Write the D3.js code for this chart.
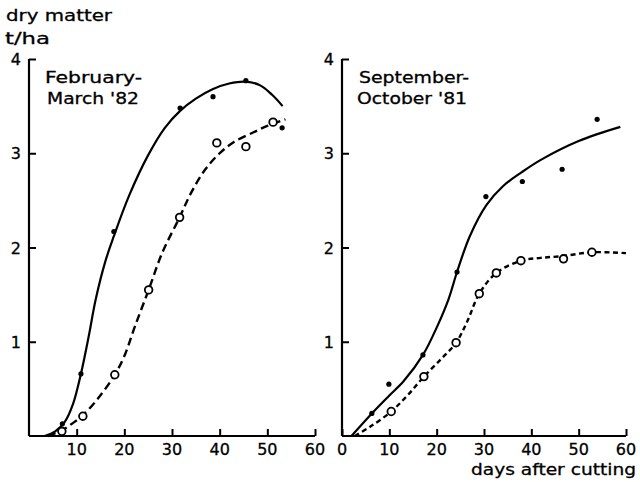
<!DOCTYPE html>
<html>
<head>
<meta charset="utf-8">
<script src="https://cdn.jsdelivr.net/npm/d3@7"></script>
<style>
  html, body { margin: 0; padding: 0; background: #fff; }
  svg text { font-family: "DejaVu Sans", sans-serif; fill: #000; stroke: #000; stroke-width: 0.3; }
</style>
</head>
<body>
<svg id="chart" width="640" height="482"></svg>
<script>
// ---- data (days after cutting, dry matter t/ha) ----
const xTicksLeft = [10, 20, 30, 40, 50, 60];
const xTicksRight = [0, 10, 20, 30, 40, 50, 60];
const yTicks = [1, 2, 3, 4];

// February–March '82
const febFilledDays = [7, 10.9, 17.8, 31.7, 38.6, 45.5, 53.1];
const febFilledDM   = [0.13, 0.66, 2.17, 3.48, 3.60, 3.77, 3.27];
const febOpenDays = [6.9, 11.3, 18.0, 25.1, 31.6, 39.4, 45.5, 51.2];
const febOpenDM   = [0.05, 0.21, 0.65, 1.55, 2.32, 3.11, 3.07, 3.33];
const febSolidCurveDays = [3.3, 5.5, 7.5, 9.3, 10.9, 12.5, 14.0, 16.0, 17.8, 21.0, 25.0, 28.5, 31.7, 35.0, 38.5, 42.0, 45.5, 48.5, 51.0, 53.2];
const febSolidCurveDM   = [0.0, 0.05, 0.15, 0.35, 0.66, 1.05, 1.45, 1.85, 2.12, 2.55, 2.98, 3.27, 3.45, 3.58, 3.68, 3.74, 3.76, 3.72, 3.62, 3.50];
const febDashCurveDays = [4.0, 6.9, 9.0, 11.3, 14.5, 18.0, 20.1, 22.2, 25.1, 28.0, 31.6, 34.0, 37.0, 40.0, 43.0, 47.0, 50.0, 53.8];
const febDashCurveDM   = [0.0, 0.06, 0.13, 0.22, 0.40, 0.65, 0.86, 1.16, 1.55, 1.95, 2.32, 2.58, 2.83, 3.00, 3.12, 3.22, 3.29, 3.36];

// September–October '81
const sepFilledDays = [6.3, 9.9, 17.1, 24.3, 30.4, 38.1, 46.5, 53.9];
const sepFilledDM   = [0.24, 0.55, 0.86, 1.74, 2.54, 2.70, 2.83, 3.36];
const sepOpenDays = [10.4, 17.3, 24.1, 29.0, 32.6, 37.8, 46.8, 52.8];
const sepOpenDM   = [0.26, 0.63, 0.99, 1.51, 1.73, 1.86, 1.88, 1.95];
const sepSolidCurveDays = [2.0, 6.5, 10.0, 13.0, 17.1, 20.0, 22.5, 24.3, 27.0, 30.5, 34.0, 38.0, 42.0, 50.0, 58.8];
const sepSolidCurveDM   = [0.0, 0.25, 0.43, 0.58, 0.86, 1.15, 1.45, 1.74, 2.12, 2.45, 2.65, 2.80, 2.93, 3.13, 3.28];
const sepDashCurveDays = [2.7, 6.0, 10.4, 14.0, 17.3, 21.0, 24.1, 26.5, 29.0, 32.6, 37.8, 42.0, 46.8, 52.8, 60.0];
const sepDashCurveDM   = [0.0, 0.10, 0.26, 0.44, 0.63, 0.82, 0.99, 1.22, 1.51, 1.73, 1.86, 1.89, 1.91, 1.95, 1.94];

const panels = [
  {
    x0: 29, x1: 315, title: ["February-", "March '82"], titleX: [45, 47], titleW: [97, 92],
    ticks: xTicksLeft,
    filled: [febFilledDays, febFilledDM], open: [febOpenDays, febOpenDM],
    solid: [febSolidCurveDays, febSolidCurveDM], dash: [febDashCurveDays, febDashCurveDM],
    dashArray: "8,4.5"
  },
  {
    x0: 342, x1: 626, title: ["September-", "October '81"], titleX: [359, 357], titleW: [110, 110],
    ticks: xTicksRight,
    filled: [sepFilledDays, sepFilledDM], open: [sepOpenDays, sepOpenDM],
    solid: [sepSolidCurveDays, sepSolidCurveDM], dash: [sepDashCurveDays, sepDashCurveDM],
    dashArray: "5,3.5"
  }
];

const svg = d3.select("#chart");
const y = d3.scaleLinear().domain([0, 4]).range([436, 59]);
const zip = (a, b) => a.map((v, i) => [v, b[i]]);

// wide lettering: stretch a label to a given width
function label(sel, x, yPos, size, txt, width) {
  const t = sel.append("text").attr("x", x).attr("y", yPos).attr("font-size", size).text(txt);
  if (width) t.attr("textLength", width).attr("lengthAdjust", "spacingAndGlyphs");
  return t;
}

// axis titles
label(svg, 6, 21, 16, "dry matter", 106);
label(svg, 5, 44, 16, "t/ha", 45);
label(svg, 471, 475, 16, "days after cutting", 165);

panels.forEach(p => {
  const x = d3.scaleLinear().domain([0, 60]).range([p.x0, p.x1]);
  const g = svg.append("g");

  // y axis: ticks point inward
  const yAxis = d3.axisRight(y).tickValues(yTicks).tickSize(7).tickFormat("");
  const ya = g.append("g").attr("transform", `translate(${p.x0},0)`).call(yAxis);
  ya.select(".domain").attr("d", `M0,${y(0)}V${y(4)}`).attr("stroke-width", 2.2);
  ya.selectAll(".tick line").attr("stroke-width", 2);
  yTicks.forEach(t => {
    g.append("text").attr("x", p.x0 - 8).attr("y", y(t) + 6)
      .attr("font-size", 16).attr("text-anchor", "end").text(t);
  });

  // x axis: ticks point upward
  const xAxis = d3.axisTop(x).tickValues(p.ticks).tickSize(7).tickFormat("");
  const xa = g.append("g").attr("transform", `translate(0,${y(0)})`).call(xAxis);
  xa.select(".domain").attr("d", `M${x(0)},0H${x(60)}`).attr("stroke-width", 2);
  xa.selectAll(".tick line").attr("stroke-width", 2);
  p.ticks.forEach(t => {
    g.append("text").attr("x", x(t)).attr("y", 455)
      .attr("font-size", 16).attr("text-anchor", "middle").text(t);
  });

  // panel title
  label(g, p.titleX[0], 83, 15, p.title[0], p.titleW[0]);
  label(g, p.titleX[1], 104, 15, p.title[1], p.titleW[1]);

  const line = d3.line().x(d => x(d[0])).y(d => y(d[1])).curve(d3.curveCatmullRom.alpha(0.5));

  g.append("path").attr("d", line(zip(p.solid[0], p.solid[1])))
    .attr("fill", "none").attr("stroke", "#000").attr("stroke-width", 2.2);
  g.append("path").attr("d", line(zip(p.dash[0], p.dash[1])))
    .attr("fill", "none").attr("stroke", "#000").attr("stroke-width", 2.4)
    .attr("stroke-dasharray", p.dashArray);

  g.selectAll(".filled").data(zip(p.filled[0], p.filled[1])).join("circle")
    .attr("cx", d => x(d[0])).attr("cy", d => y(d[1])).attr("r", 2.6).attr("fill", "#000");
  g.selectAll(".open").data(zip(p.open[0], p.open[1])).join("circle")
    .attr("cx", d => x(d[0])).attr("cy", d => y(d[1])).attr("r", 3.8)
    .attr("fill", "#fff").attr("stroke", "#000").attr("stroke-width", 1.8);
});
</script>
</body>
</html>
